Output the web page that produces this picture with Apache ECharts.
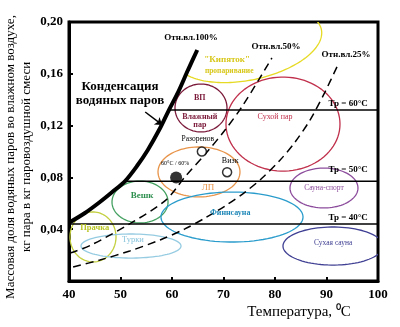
<!DOCTYPE html>
<html><head><meta charset="utf-8">
<script src="https://cdn.jsdelivr.net/npm/echarts@6/dist/echarts.min.js"></script>
<style>html,body{margin:0;padding:0;background:#fff}#c{width:400px;height:327px}</style>
</head><body><div id="c"></div>
<script>
// ---- data ----
const xTicks = [40, 50, 60, 70, 80, 90, 100];
const yTicks = [0.04, 0.08, 0.12, 0.16, 0.20];
const yTickLabels = ['0,04', '0,08', '0,12', '0,16', '0,20'];

// saturation curve (Отн.вл.100%)
const satT = [40, 43.1, 46.0, 48.4, 50.9, 53.2, 55.3, 57.7, 59.4, 61.2, 63.1, 64.9];
const satV = [0.045, 0.0525, 0.061, 0.0687, 0.0772, 0.0888, 0.1012, 0.1181, 0.132, 0.1459, 0.1629, 0.1784];
// 50 % line
const rh50T = [40.2, 44.3, 52.4, 58.8, 62.5, 66.8, 70.3, 73.8, 79.4];
const rh50V = [0.0216, 0.0278, 0.0456, 0.0625, 0.0803, 0.0996, 0.1166, 0.1359, 0.1722];
// 25 % line
const rh25T = [40.8, 46.0, 51.8, 57.7, 62.5, 66.4, 70.3, 74.2, 77.5, 81.0, 83.9, 86.8, 89.7, 92.2];
const rh25V = [0.0108, 0.0162, 0.0232, 0.0317, 0.0402, 0.0486, 0.0579, 0.0687, 0.0795, 0.0934, 0.1073, 0.1243, 0.1459, 0.1668];

// dew point lines
const dewLabels = ['Тр = 60°С', 'Тр = 50°С', 'Тр = 40°С'];
const dewV = [0.132, 0.077, 0.044];
const dewStartT = [59.4, 50.9, 40];
const dewEndT = [100, 100, 100];

// zones (ellipses): centre and half-widths in data units
const zoneNames = ['Кипяток', 'ВП', 'Сухой пар', 'ЛП', 'Вешк', 'Прачка', 'Турки', 'Финнсауна', 'Сауна-спорт', 'Сухая сауна'];
const zoneT  = [74.76, 65.63, 81.55, 65.24, 53.79, 44.66, 52.04, 71.65, 89.51, 91.26];
const zoneV  = [0.1822, 0.1336, 0.1212, 0.0842, 0.0610, 0.0340, 0.0270, 0.0494, 0.0718, 0.0270];
const zoneRT = [14.56, 5.05, 11.07, 7.96, 5.44, 4.47, 9.71, 13.79, 6.60, 9.71];
const zoneRV = [0.0270, 0.0185, 0.0363, 0.0193, 0.0162, 0.0193, 0.0093, 0.0193, 0.0154, 0.0147];

// marked points
const dotT = [60.8], dotV = [0.080];
const openT = [65.8, 70.7], openV = [0.100, 0.084];

// annotations
const noteText = ['Отн.вл.100%', 'Отн.вл.50%', 'Отн.вл.25%', '"Кипяток"', 'пропаривание', 'ВП', 'Влажный\nпар',
  'Сухой пар', 'Тр = 60°С', 'Тр = 50°С', 'Тр = 40°С', 'Разоренов', 'Визк', '60°С / 60%', 'ЛП', 'Вешк', 'Прачка',
  'Турки', 'Финнсауна', 'Сауна-спорт', 'Сухая сауна', 'Конденсация\nводяных паров'];
const noteT = [63.7, 80.2, 93.8, 70.7, 71.1, 65.4, 65.4, 80.0, 94.2, 94.2, 94.2, 65.0, 71.3, 60.6, 67.0, 54.2, 45.0,
  52.4, 71.3, 89.5, 91.3, 49.9];
const noteV = [0.188, 0.181, 0.175, 0.171, 0.162, 0.141, 0.1235, 0.127, 0.137, 0.086, 0.049, 0.110, 0.093, 0.091,
  0.072, 0.066, 0.041, 0.032, 0.0525, 0.072, 0.029, 0.1444];
const arrowT = [54.8, 58.1], arrowV = [0.1305, 0.1205];

// ---- styles ----
const zoneStyle = [
  {c: '#e6da24', w: 1.3, tilt: 12, arc: [-22, 152]},
  {c: '#7a1838', w: 1.3}, {c: '#c0304c', w: 1.3}, {c: '#e8944a', w: 1.3}, {c: '#44a060', w: 1.3},
  {c: '#c4d040', w: 1.3}, {c: '#96cce2', w: 1.3}, {c: '#2a9ccc', w: 1.3}, {c: '#8c4c9c', w: 1.3}, {c: '#404094', w: 1.3}
];
const SER = 'Liberation Serif, Times New Roman, serif';
const noteStyle = [
  {c: '#000', s: 9, b: 'bold'}, {c: '#000', s: 9, b: 'bold'}, {c: '#000', s: 9, b: 'bold'},
  {c: '#d8c81c', s: 9, b: 'bold'}, {c: '#d8c81c', s: 7.5, b: 'bold'},
  {c: '#7a1838', s: 8, b: 'bold'}, {c: '#7a1838', s: 8, b: 'bold', lh: 8},
  {c: '#c0304c', s: 8, b: 'normal'},
  {c: '#000', s: 9, b: 'bold'}, {c: '#000', s: 9, b: 'bold'}, {c: '#000', s: 9, b: 'bold'},
  {c: '#000', s: 7.5, b: 'normal'}, {c: '#000', s: 8, b: 'normal'}, {c: '#000', s: 6, b: 'normal'},
  {c: '#e8944a', s: 9, b: 'normal'}, {c: '#2f9050', s: 9, b: 'bold'}, {c: '#b8c424', s: 8.5, b: 'bold'},
  {c: '#88c4dc', s: 8.5, b: 'normal'}, {c: '#1f88b8', s: 8, b: 'bold'}, {c: '#8c4c9c', s: 7.5, b: 'normal'},
  {c: '#404094', s: 7.5, b: 'normal'}, {c: '#000', s: 13, b: 'bold', lh: 14}
];

function pairs(a, b) { return a.map((v, i) => [v, b[i]]); }

const series = [];
// zones
series.push({
  type: 'custom', clip: true, silent: true, z: 2,
  data: zoneT.map((t, i) => [t, zoneV[i], zoneRT[i], zoneRV[i], i]),
  renderItem: function (params, api) {
    const i = api.value(4);
    const st = zoneStyle[i];
    const c = api.coord([api.value(0), api.value(1)]);
    const s = api.size([api.value(2), api.value(3)]);
    const tilt = (st.tilt || 0) * Math.PI / 180;
    const arc = st.arc || [0, 360];
    const pts = [];
    const n = 90;
    for (let k = 0; k <= n; k++) {
      const th = (arc[0] + (arc[1] - arc[0]) * k / n) * Math.PI / 180;
      const ex = s[0] * Math.cos(th), ey = s[1] * Math.sin(th);
      pts.push([c[0] + ex * Math.cos(tilt) + ey * Math.sin(tilt), c[1] - ex * Math.sin(tilt) + ey * Math.cos(tilt)]);
    }
    return {
      type: st.arc ? 'polyline' : 'polygon',
      shape: {points: pts},
      style: {fill: 'none', stroke: st.c, lineWidth: st.w}
    };
  }
});
// dew point lines
dewV.forEach((v, i) => {
  series.push({type: 'line', symbol: 'none', silent: true, z: 3,
    lineStyle: {color: '#000', width: 1.4},
    data: [[dewStartT[i], v], [dewEndT[i], v]]});
});
// relative humidity lines
series.push({type: 'line', symbol: 'none', smooth: 0.3, silent: true, z: 3,
  lineStyle: {color: '#000', width: 1.5, type: [8, 5]}, data: pairs(rh50T, rh50V)});
series.push({type: 'line', symbol: 'none', smooth: 0.3, silent: true, z: 3,
  lineStyle: {color: '#000', width: 1.5, type: [8, 5]}, data: pairs(rh25T, rh25V)});
// saturation
series.push({type: 'line', symbol: 'none', smooth: 0.3, silent: true, z: 4,
  lineStyle: {color: '#000', width: 4}, data: pairs(satT, satV),
  markLine: {silent: true, symbol: ['none', 'arrow'], symbolSize: 7, animation: false,
    lineStyle: {color: '#000', width: 1.5, type: 'solid'}, label: {show: false},
    data: [[{coord: [arrowT[0], arrowV[0]]}, {coord: [arrowT[1], arrowV[1]]}]]}
});
// points
series.push({type: 'scatter', symbol: 'circle', symbolSize: 12, silent: true, z: 5,
  itemStyle: {color: '#000'}, data: pairs(dotT, dotV)});
series.push({type: 'scatter', symbol: 'circle', symbolSize: 9, silent: true, z: 5,
  itemStyle: {color: '#fff', borderColor: '#000', borderWidth: 1.5}, data: pairs(openT, openV)});
// annotations
series.push({
  type: 'custom', silent: true, z: 6, clip: false,
  data: noteT.map((t, i) => [t, noteV[i], i]),
  renderItem: function (params, api) {
    const i = api.value(2);
    const st = noteStyle[i];
    const c = api.coord([api.value(0), api.value(1)]);
    return {type: 'text', x: c[0], y: c[1], style: {
      text: noteText[i], fill: st.c, align: 'center', verticalAlign: 'middle',
      font: st.b + ' ' + st.s + 'px ' + SER, lineHeight: st.lh || st.s + 1
    }};
  }
});

const chart = echarts.init(document.getElementById('c'), null, {renderer: 'canvas'});
chart.setOption({
  animation: false,
  backgroundColor: '#fff',
  grid: {left: 69, right: 22, top: 22, bottom: 46, show: true, borderColor: '#000', borderWidth: 3},
  xAxis: {type: 'value', min: xTicks[0], max: xTicks[xTicks.length - 1], interval: 10,
    axisLine: {show: true, lineStyle: {color: '#000', width: 3}},
    axisTick: {show: true, inside: true, length: 4, lineStyle: {color: '#000', width: 2}},
    splitLine: {show: false},
    axisLabel: {color: '#000', fontFamily: SER, fontWeight: 'bold', fontSize: 13, margin: 7,
      formatter: v => xTicks.indexOf(v) >= 0 ? String(v) : ''}
  },
  yAxis: {type: 'value', min: 0, max: yTicks[yTicks.length - 1], interval: 0.04,
    axisLine: {show: true, lineStyle: {color: '#000', width: 3}},
    axisTick: {show: true, inside: true, length: 4, lineStyle: {color: '#000', width: 2}},
    splitLine: {show: false},
    axisLabel: {color: '#000', fontFamily: SER, fontWeight: 'bold', fontSize: 13, margin: 6, showMinLabel: false,
      formatter: v => { const k = yTicks.findIndex(t => Math.abs(t - v) < 1e-6); return k >= 0 ? yTickLabels[k] : ''; }}
  },
  graphic: [
    {type: 'text', x: 299, y: 312, style: {text: 'Температура, ⁰С', fill: '#000', font: '15px ' + SER, align: 'center', verticalAlign: 'middle'}},
    {type: 'text', x: 11, y: 157, rotation: Math.PI / 2, style: {text: 'Массовая доля водяных паров во влажном воздухе,', fill: '#000', font: '13px ' + SER, align: 'center', verticalAlign: 'middle'}},
    {type: 'text', x: 27, y: 157, rotation: Math.PI / 2, style: {text: 'кг пара в кг паровоздушной смеси', fill: '#000', font: '13px ' + SER, align: 'center', verticalAlign: 'middle'}}
  ],
  series: series
});
</script>
</body></html>
